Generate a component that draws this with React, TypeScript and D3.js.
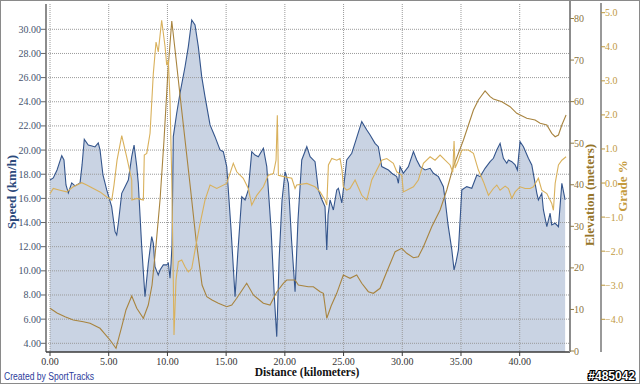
import React from "react";
import * as d3 from "d3";

// ---- data (distance km, value) ----
const X_TICKS = [0, 5, 10, 15, 20, 25, 30, 35, 40];
const SPEED_TICKS = [4, 6, 8, 10, 12, 14, 16, 18, 20, 22, 24, 26, 28, 30];
const ELEV_TICKS = [0, 10, 20, 30, 40, 50, 60, 70, 80];
const GRADE_TICKS = [-4, -3, -2, -1, 0, 1, 2, 3, 4, 5];

const speed: [number, number][] = [
  [0.0, 17.52], [0.28, 17.69], [0.6, 18.35], [1.0, 19.54], [1.19, 19.18], [1.36, 17.11], [1.56, 16.45],
  [1.85, 17.28], [2.13, 17.03], [2.56, 17.28], [2.73, 18.77], [2.92, 20.89], [3.26, 20.42], [3.58, 20.34],
  [3.83, 20.26], [4.11, 20.59], [4.26, 20.01], [4.51, 17.94], [4.83, 16.7], [5.25, 15.31], [5.54, 13.24],
  [5.68, 12.97], [5.82, 13.94], [6.11, 16.42], [6.39, 16.97], [6.67, 17.52], [6.96, 19.45], [7.16, 20.42],
  [7.39, 18.63], [7.52, 17.25], [7.81, 12.0], [8.09, 7.86], [8.37, 10.63], [8.66, 12.83], [8.8, 12.28],
  [8.94, 10.35], [9.22, 9.66], [9.37, 10.07], [9.65, 10.49], [9.94, 10.49], [10.08, 10.63], [10.22, 9.39],
  [10.31, 10.63], [10.39, 12.14], [10.5, 21.11], [10.79, 23.05], [11.07, 24.7], [11.5, 26.9], [11.78, 28.56],
  [12.07, 30.77], [12.35, 30.36], [12.63, 28.56], [12.92, 26.08], [13.2, 24.42], [13.63, 22.08], [14.05, 21.11],
  [14.48, 20.01], [14.76, 19.87], [15.05, 18.63], [15.42, 13.39], [15.76, 7.86], [16.01, 11.73], [16.33, 16.14],
  [16.61, 15.87], [16.89, 16.7], [17.18, 19.87], [17.46, 19.59], [17.74, 19.45], [18.17, 20.15], [18.46, 18.63],
  [18.83, 13.39], [19.12, 7.59], [19.31, 4.55], [19.51, 10.9], [19.76, 15.87], [20.02, 18.21], [20.3, 17.25],
  [20.57, 12.56], [20.87, 8.28], [21.12, 14.21], [21.44, 19.18], [21.87, 20.28], [22.15, 19.45], [22.57, 19.04],
  [22.85, 16.7], [23.17, 15.87], [23.42, 15.31], [23.57, 11.73], [23.68, 14.63], [23.85, 15.87], [24.13, 15.04],
  [24.42, 16.7], [24.56, 16.84], [24.85, 15.62], [25.27, 19.18], [25.7, 19.74], [26.06, 20.84], [26.55, 22.35],
  [26.98, 21.66], [27.26, 21.25], [27.68, 20.56], [27.96, 20.28], [28.25, 18.63], [28.82, 18.35], [29.11, 18.08],
  [29.53, 17.8], [29.67, 17.25], [29.81, 18.63], [30.09, 18.08], [30.52, 18.63], [30.95, 19.87], [31.23, 19.18],
  [31.52, 18.63], [31.94, 18.35], [32.37, 18.49], [32.65, 18.08], [33.08, 17.8], [33.5, 16.97], [33.65, 15.87],
  [33.9, 13.8], [34.22, 11.73], [34.41, 10.07], [34.58, 10.74], [34.78, 11.73], [35.07, 16.7], [35.49, 16.97],
  [35.92, 16.84], [36.35, 17.94], [36.63, 17.8], [37.05, 18.49], [37.48, 19.04], [37.76, 19.32], [38.05, 20.01],
  [38.33, 20.56], [38.61, 19.32], [38.9, 18.91], [39.04, 19.18], [39.33, 19.04], [39.61, 18.77], [39.8, 18.35],
  [40.03, 20.7], [40.32, 20.28], [40.74, 19.32], [41.03, 18.77], [41.31, 17.25], [41.46, 16.42], [41.59, 15.87],
  [41.88, 16.42], [42.02, 15.04], [42.31, 13.66], [42.59, 14.77], [42.73, 13.8], [43.02, 13.94], [43.3, 13.66],
  [43.59, 17.25], [43.87, 15.87],
];

const elevation: [number, number][] = [
  [0.0, 10.27], [0.6, 9.14], [1.28, 8.25], [1.98, 7.46], [2.84, 7.05], [3.41, 6.67], [4.26, 5.46], [5.11, 2.65],
  [5.62, 0.65], [6.11, 5.85], [6.47, 9.87], [6.96, 13.23], [7.39, 10.27], [7.95, 7.87], [8.37, 11.07],
  [8.69, 15.88], [9.03, 25.51], [9.37, 36.33], [9.71, 50.77], [10.05, 67.61], [10.37, 79.4], [10.65, 72.43],
  [11.07, 61.6], [11.5, 50.77], [11.93, 39.94], [12.44, 26.71], [12.95, 15.88], [13.35, 13.07], [13.8, 12.27],
  [14.34, 11.48], [15.05, 10.66], [15.48, 11.07], [15.9, 12.68], [16.75, 16.29], [17.32, 13.47], [18.17, 11.48],
  [18.74, 11.07], [19.31, 14.2], [19.87, 16.29], [20.16, 17.08], [20.87, 17.08], [21.15, 15.88], [22.0, 15.47],
  [22.43, 15.47], [23.0, 14.27], [23.28, 13.88], [23.57, 7.87], [23.94, 10.83], [24.42, 13.88], [24.98, 18.29],
  [25.55, 17.49], [26.12, 18.29], [26.55, 16.29], [27.11, 14.27], [27.54, 13.88], [28.11, 15.09], [28.68, 19.08],
  [29.39, 23.89], [29.96, 24.71], [30.38, 23.51], [30.95, 22.45], [31.37, 22.69], [31.8, 25.1], [32.51, 29.91],
  [33.22, 33.93], [33.79, 38.74], [34.35, 44.35], [35.21, 50.77], [36.06, 57.99], [36.48, 60.39], [37.05, 62.56],
  [37.48, 61.19], [37.76, 60.63], [38.48, 59.98], [39.18, 58.78], [39.75, 57.19], [40.6, 55.99], [41.31, 55.58],
  [41.74, 54.79], [42.31, 54.38], [42.73, 52.38], [43.02, 51.56], [43.3, 51.97], [43.59, 54.38], [43.95, 56.79],
];

const grade: [number, number][] = [
  [0.0, -0.31], [0.28, -0.16], [0.85, -0.21], [1.42, -0.26], [1.98, -0.11], [2.7, 0.01], [3.13, -0.06],
  [3.69, -0.16], [4.26, -0.26], [4.83, -0.41], [5.26, -0.5], [5.45, -0.06], [5.71, 0.67], [6.11, 1.39],
  [6.53, 0.77], [6.96, 0.09], [6.98, -0.5], [7.39, -0.45], [7.95, -0.5], [8.03, 0.82], [8.24, 0.87],
  [8.52, 1.46], [8.8, 3.22], [9.03, 4.14], [9.22, 3.85], [9.51, 4.78], [9.8, 4.0], [9.94, 3.46], [10.08, 3.61],
  [10.22, 2.43], [10.37, 0.09], [10.5, -2.85], [10.56, -4.46], [10.73, -2.85], [10.93, -2.31], [11.22, -2.26],
  [11.5, -2.46], [11.78, -2.61], [12.07, -2.51], [12.35, -1.97], [12.78, -1.19], [13.2, -0.5], [13.63, -0.06],
  [14.2, -0.16], [15.05, -0.01], [15.61, 0.58], [15.9, 0.33], [16.46, 0.14], [16.89, -0.16], [17.18, -0.65],
  [17.61, -0.36], [18.17, -0.11], [18.59, 0.23], [19.02, 0.28], [19.25, 0.67], [19.36, 1.99], [19.45, 0.23],
  [20.02, 0.18], [20.59, 0.14], [20.87, -0.16], [21.01, -0.06], [21.87, -0.01], [22.57, -0.11], [23.0, -0.26],
  [23.42, -0.5], [23.57, -0.65], [23.71, 0.53], [24.0, 0.72], [24.42, 0.67], [24.7, 0.72], [24.87, 0.38],
  [24.98, -0.11], [25.27, -0.21], [25.55, -0.16], [25.98, 0.09], [26.55, -0.36], [26.98, -0.5], [27.4, 0.09],
  [28.25, 0.67], [28.68, 0.72], [29.24, 0.58], [29.53, 0.33], [29.96, 0.23], [30.09, -0.26], [30.95, -0.11],
  [31.37, 0.09], [31.8, 0.58], [32.37, 0.77], [32.79, 0.67], [33.22, 0.82], [33.65, 0.67], [34.07, 0.53],
  [34.3, 0.32], [34.41, 1.23], [34.5, 0.44], [34.78, 0.67], [35.07, 0.97], [35.63, 0.97], [36.06, 0.87],
  [36.48, 0.38], [36.91, 0.04], [37.34, -0.36], [37.76, -0.16], [38.05, -0.06], [38.33, -0.21], [38.76, -0.09],
  [39.04, -0.16], [39.33, -0.45], [39.61, -0.26], [40.03, -0.11], [40.46, -0.16], [40.89, -0.16], [41.17, -0.11],
  [41.59, 0.14], [41.88, -0.21], [42.31, -0.31], [42.73, -0.6], [42.87, -0.8], [43.02, -0.01], [43.3, 0.53],
  [43.59, 0.67], [43.95, 0.77],
];

// ---- layout ----
const W = 640;
const H = 384;
const PLOT_L = 46;
const PLOT_R = 570;
const PLOT_T = 4;
const PLOT_B = 352;
const GRADE_AX = 601;

const SERIF = "'Liberation Serif', 'Times New Roman', serif";
const SANS = "'Liberation Sans', Arial, sans-serif";

export default function App() {
  const x = d3.scaleLinear().domain([0, 40]).range([50, 519.7]);
  const ySpeed = d3.scaleLinear().domain([4, 30]).range([343.3, 29.3]);
  const yElev = d3.scaleLinear().domain([0, 80]).range([351, 18.5]);
  const yGrade = d3.scaleLinear().domain([-4, 5]).range([319.3, 12.7]);

  const area = d3
    .area<[number, number]>()
    .x((d) => x(d[0]))
    .y0(PLOT_B)
    .y1((d) => ySpeed(d[1]));
  const speedLine = d3
    .line<[number, number]>()
    .x((d) => x(d[0]))
    .y((d) => ySpeed(d[1]));
  const elevLine = d3
    .line<[number, number]>()
    .x((d) => x(d[0]))
    .y((d) => yElev(d[1]));
  const gradeLine = d3
    .line<[number, number]>()
    .x((d) => x(d[0]))
    .y((d) => yGrade(d[1]));

  const f2 = d3.format(".2f");
  const f1 = d3.format(".1f");

  return (
    <svg
      width={W}
      height={H}
      style={{ position: "absolute", left: 0, top: 0, background: "#fff" }}
    >
      <rect x={0.5} y={0.5} width={W - 1} height={H - 1} fill="#fff" stroke="#8a8a8a" />
      <defs>
        <clipPath id="plot">
          <rect x={PLOT_L} y={PLOT_T} width={PLOT_R - PLOT_L} height={PLOT_B - PLOT_T} />
        </clipPath>
      </defs>

      <g clipPath="url(#plot)">
        <path d={area(speed) || ""} fill="#c9d3e3" />
        {X_TICKS.map((t) => (
          <line
            key={"gx" + t}
            x1={x(t)}
            x2={x(t)}
            y1={PLOT_T}
            y2={PLOT_B}
            stroke="#9a9a9a"
            strokeWidth={1}
            strokeDasharray="1,1"
          />
        ))}
        {SPEED_TICKS.map((t) => (
          <line
            key={"gy" + t}
            x1={PLOT_L}
            x2={PLOT_R}
            y1={ySpeed(t)}
            y2={ySpeed(t)}
            stroke="#9a9a9a"
            strokeWidth={1}
            strokeDasharray="1,1"
          />
        ))}
        <path d={speedLine(speed) || ""} fill="none" stroke="#34558c" strokeWidth={1.1} />
        <path d={elevLine(elevation) || ""} fill="none" stroke="#a8843f" strokeWidth={1.1} />
        <path d={gradeLine(grade) || ""} fill="none" stroke="#d9b15c" strokeWidth={1.1} />
      </g>

      {/* left axis */}
      <line x1={PLOT_L} x2={PLOT_L} y1={PLOT_T} y2={PLOT_B} stroke="#8c8c8c" strokeWidth={2} />
      {SPEED_TICKS.map((t) => (
        <g key={"ls" + t}>
          <line x1={PLOT_L - 5} x2={PLOT_L} y1={ySpeed(t)} y2={ySpeed(t)} stroke="#666" />
          <text
            x={PLOT_L - 5}
            y={ySpeed(t) + 3.5}
            textAnchor="end"
            fontFamily={SERIF}
            fontSize={10}
            fill="#46536e"
          >
            {f2(t)}
          </text>
        </g>
      ))}
      <text
        transform="translate(16,192) rotate(-90)"
        textAnchor="middle"
        fontFamily={SERIF}
        fontWeight="bold"
        fontSize={13}
        fill="#2c4a7c"
      >
        Speed (km/h)
      </text>

      {/* bottom axis */}
      <line x1={PLOT_L} x2={PLOT_R} y1={PLOT_B} y2={PLOT_B} stroke="#3a3a3a" strokeWidth={1.5} />
      {X_TICKS.map((t) => (
        <g key={"bx" + t}>
          <line x1={x(t)} x2={x(t)} y1={PLOT_B} y2={PLOT_B + 4} stroke="#3a3a3a" />
          <text
            x={x(t)}
            y={PLOT_B + 12.5}
            textAnchor="middle"
            fontFamily={SERIF}
            fontSize={10}
            fill="#333"
          >
            {f2(t)}
          </text>
        </g>
      ))}
      <text
        x={307}
        y={376}
        textAnchor="middle"
        fontFamily={SERIF}
        fontWeight="bold"
        fontSize={11.5}
        fill="#111"
      >
        Distance (kilometers)
      </text>

      {/* elevation axis */}
      <line x1={PLOT_R} x2={PLOT_R} y1={1} y2={PLOT_B} stroke="#8c8c8c" strokeWidth={2} />
      {ELEV_TICKS.map((t) => (
        <g key={"re" + t}>
          <line x1={PLOT_R} x2={PLOT_R + 4} y1={yElev(t)} y2={yElev(t)} stroke="#8c7a4a" />
          <text
            x={PLOT_R + 4}
            y={yElev(t) + 3.5}
            textAnchor="start"
            fontFamily={SERIF}
            fontSize={10}
            fill="#8a7442"
          >
            {t}
          </text>
        </g>
      ))}
      <text
        transform="translate(594,195) rotate(-90)"
        textAnchor="middle"
        fontFamily={SERIF}
        fontWeight="bold"
        fontSize={13}
        fill="#957428"
      >
        Elevation (meters)
      </text>

      {/* grade axis */}
      <line x1={GRADE_AX} x2={GRADE_AX} y1={3} y2={PLOT_B} stroke="#555" strokeWidth={1.2} />
      {GRADE_TICKS.map((t) => (
        <g key={"rg" + t}>
          <line x1={GRADE_AX} x2={GRADE_AX + 4} y1={yGrade(t)} y2={yGrade(t)} stroke="#b8953f" />
          <text
            x={GRADE_AX + 4}
            y={yGrade(t) + 3.5}
            textAnchor="start"
            fontFamily={SERIF}
            fontSize={10}
            fill="#c29a42"
          >
            {f1(t)}
          </text>
        </g>
      ))}
      <text
        transform="translate(627,186) rotate(-90)"
        textAnchor="middle"
        fontFamily={SERIF}
        fontWeight="bold"
        fontSize={13}
        fill="#c59b3e"
      >
        Grade %
      </text>

      <text x={4} y={380} fontFamily={SANS} fontSize={10} fill="#2c3c9c" textLength={90} lengthAdjust="spacingAndGlyphs">
        Created by SportTracks
      </text>
      <text
        x={635}
        y={380}
        textAnchor="end"
        fontFamily={SANS}
        fontWeight="bold"
        fontSize={12}
        fill="#fff"
        stroke="#000"
        strokeWidth={2.2}
        paintOrder="stroke"
      >
        #485042
      </text>
    </svg>
  );
}
